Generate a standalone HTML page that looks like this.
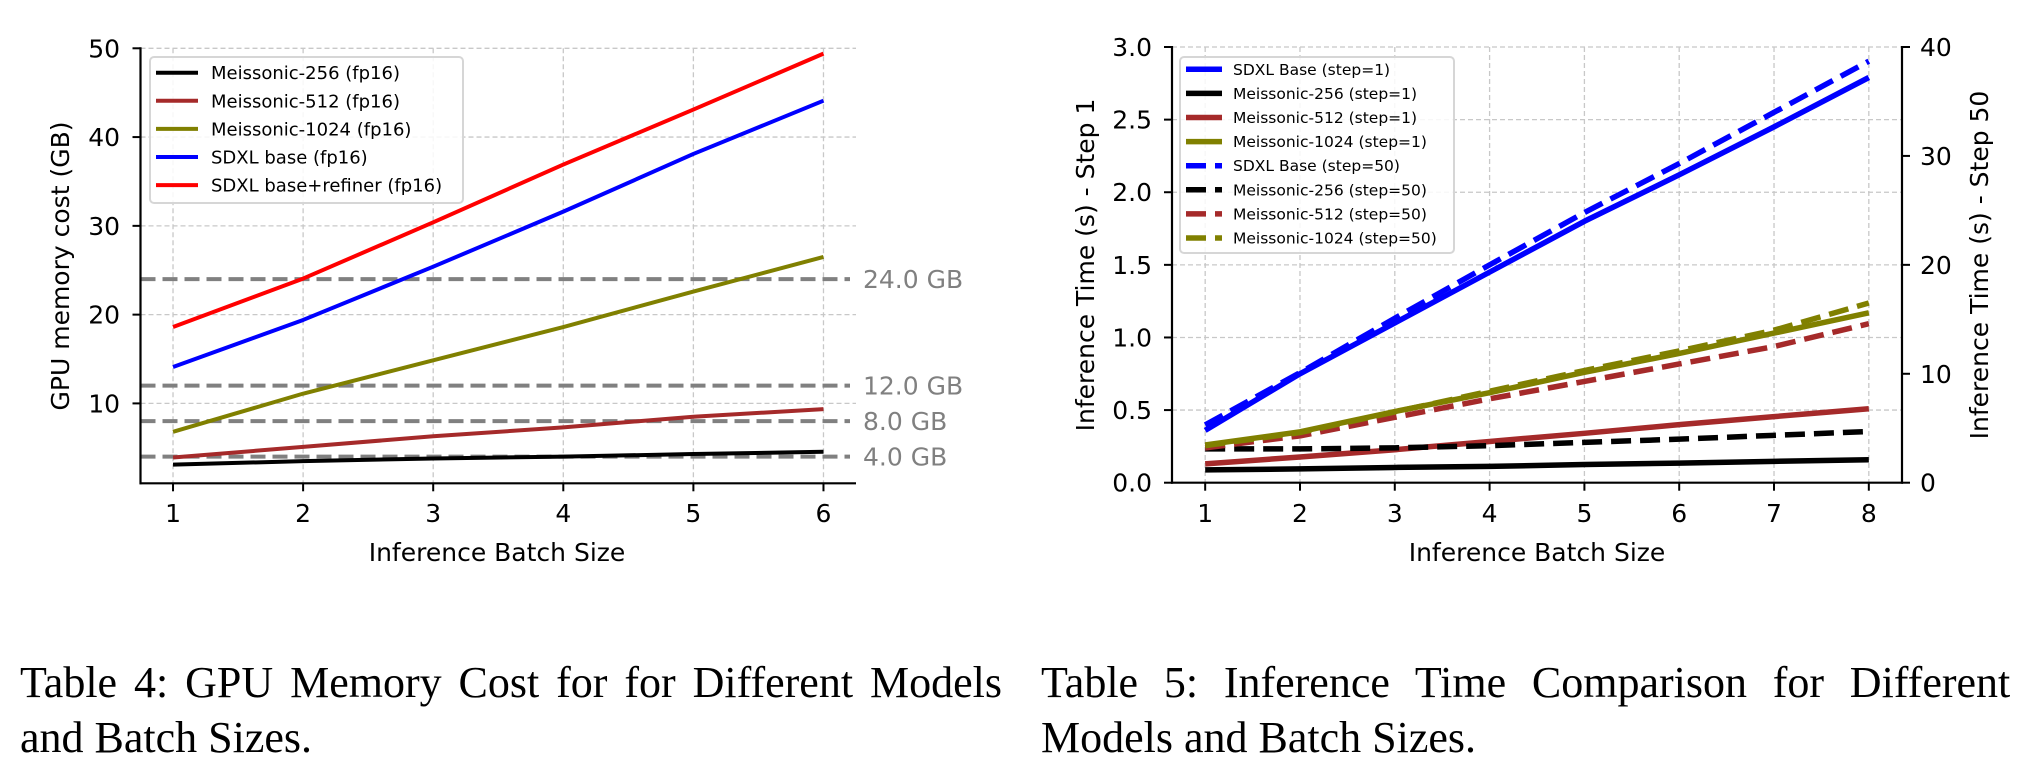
<!DOCTYPE html>
<html><head><meta charset="utf-8"><style>
body{margin:0;background:#fff}
svg{display:block}
text{font-family:"DejaVu Sans","Liberation Sans",sans-serif}
.cap{font-family:"Liberation Serif",serif;font-size:44px;fill:#000}
</style></head><body>
<svg id="fig" width="2041" height="778" viewBox="0 0 2041 778" xmlns="http://www.w3.org/2000/svg">
<g id="left"></g>
<g id="right"></g>
<text class="cap" id="cap4" x="20" y="697">Table 4: GPU Memory Cost for for Different Models</text>
<text class="cap" x="20" y="752">and Batch Sizes.</text>
<text class="cap" id="cap5" x="1041" y="697">Table 5:  Inference Time Comparison for Different</text>
<text class="cap" x="1041" y="752">Models and Batch Sizes.</text>
</svg>
<script>
// ---- Left chart data ----
const memBatch = [1,2,3,4,5,6];
const mem256 = [3.1,3.5,3.8,4.0,4.3,4.55];
const mem512 = [3.9,5.1,6.3,7.3,8.5,9.36];
const mem1024 = [6.8,11.1,14.85,18.6,22.6,26.5];
const memSdxl = [14.1,19.4,25.4,31.6,38.1,44.1];
const memSdxlRef = [18.6,24.06,30.4,36.9,43.1,49.4];
const memThresholds = [24,12,8,4];
const memThresholdLabels = ["24.0 GB","12.0 GB","8.0 GB","4.0 GB"];
const memYTicks = [10,20,30,40,50];
const memXTicks = [1,2,3,4,5,6];
// ---- Right chart data ----
const timeBatch = [1,2,3,4,5,6,7,8];
const t1Sdxl = [0.36,0.75,1.1,1.45,1.8,2.12,2.45,2.79];
const t1M256 = [0.088,0.095,0.105,0.112,0.125,0.135,0.147,0.158];
const t1M512 = [0.13,0.177,0.227,0.284,0.34,0.40,0.455,0.509];
const t1M1024 = [0.26,0.35,0.49,0.62,0.76,0.89,1.03,1.17];
const t50Sdxl = [5.3,10.1,15.1,20,24.8,29.3,34,38.7];
const t50M256 = [3.1,3.1,3.2,3.4,3.7,4.0,4.35,4.7];
const t50M512 = [3.2,4.3,6.0,7.7,9.3,10.9,12.5,14.6];
const t50M1024 = [3.4,4.6,6.5,8.4,10.3,12.1,14.0,16.5];
const timeYTicksL = [0,0.5,1.0,1.5,2.0,2.5,3.0];
const timeYTicksLLabels = ["0.0","0.5","1.0","1.5","2.0","2.5","3.0"];
const timeYTicksR = [0,10,20,30,40];
const timeXTicks = [1,2,3,4,5,6,7,8];

const NS="http://www.w3.org/2000/svg";
function mk(parent,tag,attrs,txt){const e=document.createElementNS(NS,tag);for(const k in attrs)e.setAttribute(k,attrs[k]);if(txt!==undefined)e.textContent=txt;parent.appendChild(e);return e;}

function justify(id,w){const t=document.getElementById(id);const len=t.getComputedTextLength();const n=(t.textContent.match(/ /g)||[]).length;if(n&&len<w)t.setAttribute('word-spacing',((w-len)/n).toFixed(2));}
justify('cap4',982);justify('cap5',984);

// ===== LEFT =====
(function(){
const g=document.getElementById('left');
const X0=140.5,X1=856,Y0=483.3,Y1=48.3, xmin=0.75,xmax=6.25,ymin=1,ymax=50;
const sx=v=>X0+(v-xmin)/(xmax-xmin)*(X1-X0);
const sy=v=>Y0-(v-ymin)/(ymax-ymin)*(Y0-Y1);
memXTicks.forEach(v=>{const l=mk(g,'line',{x1:sx(v),x2:sx(v),y1:Y1,y2:Y0,stroke:'#c8c8c8','stroke-width':1.3,'stroke-dasharray':'5 3'});
});
memYTicks.forEach(v=>{const l=mk(g,'line',{x1:X0,x2:X1,y1:sy(v),y2:sy(v),stroke:'#c8c8c8','stroke-width':1.3,'stroke-dasharray':'5 3'});
});
memThresholds.forEach((v,i)=>{
const l=mk(g,'line',{x1:X0,x2:850,y1:sy(v),y2:sy(v),stroke:'#808080','stroke-width':4,'stroke-dasharray':'15 7'});

const t=mk(g,'text',{x:863,y:sy(v)+9,'font-size':25,fill:'#808080'},memThresholdLabels[i]);
});
const series=[[mem256,'#000000','meissonic-256-line'],[mem512,'#a52a2a','meissonic-512-line'],[mem1024,'#808000','meissonic-1024-line'],[memSdxl,'#0000ff','sdxl-base-line'],[memSdxlRef,'#ff0000','sdxl-refiner-line']];
series.forEach(s=>{const p=mk(g,'polyline',{points:memBatch.map((b,i)=>sx(b)+','+sy(s[0][i])).join(' '),fill:'none',stroke:s[1],'stroke-width':4,'stroke-linejoin':'round'});
});
mk(g,'line',{x1:X0,x2:X0,y1:Y1-1,y2:Y0+1,stroke:'#000','stroke-width':2.2});
mk(g,'line',{x1:X0-1,x2:X1,y1:Y0,y2:Y0,stroke:'#000','stroke-width':2.2});
memXTicks.forEach(v=>{mk(g,'line',{x1:sx(v),x2:sx(v),y1:Y0,y2:Y0+8,stroke:'#000','stroke-width':2});
const t=mk(g,'text',{x:sx(v),y:522,'font-size':25,'text-anchor':'middle'},String(v));});
memYTicks.forEach(v=>{mk(g,'line',{x1:X0-8,x2:X0,y1:sy(v),y2:sy(v),stroke:'#000','stroke-width':2});
const t=mk(g,'text',{x:120,y:sy(v)+9,'font-size':25,'text-anchor':'end'},String(v));});
const xl=mk(g,'text',{x:497,y:561,'font-size':25,'text-anchor':'middle'},'Inference Batch Size');
const yl=mk(g,'text',{x:0,y:0,'font-size':25,'text-anchor':'middle',transform:'translate(69,266) rotate(-90)'},'GPU memory cost (GB)');
const lg=mk(g,'g',{});
mk(lg,'rect',{x:150,y:57,width:313,height:146,rx:4,fill:'#fff','fill-opacity':0.85,stroke:'#d6d6d6','stroke-width':2});
const names=['Meissonic-256 (fp16)','Meissonic-512 (fp16)','Meissonic-1024 (fp16)','SDXL base (fp16)','SDXL base+refiner (fp16)'];
series.forEach((s,i)=>{const y=72.7+i*28.1;
mk(lg,'line',{x1:156,x2:198,y1:y,y2:y,stroke:s[1],'stroke-width':4});
const t=mk(lg,'text',{x:211,y:y+6.5,'font-size':18},names[i]);});
})();

// ===== RIGHT =====
(function(){
const g=document.getElementById('right');
const X0=1172,X1=1902,Y0=482.7,Y1=47, xmin=0.65,xmax=8.35;
const sx=v=>X0+(v-xmin)/(xmax-xmin)*(X1-X0);
const syL=v=>Y0-v/3*(Y0-Y1);
const syR=v=>Y0-v/40*(Y0-Y1);
timeXTicks.forEach(v=>{const l=mk(g,'line',{x1:sx(v),x2:sx(v),y1:Y1,y2:Y0,stroke:'#c8c8c8','stroke-width':1.3,'stroke-dasharray':'5 3'});
});
timeYTicksL.forEach(v=>{const l=mk(g,'line',{x1:X0,x2:X1,y1:syL(v),y2:syL(v),stroke:'#c8c8c8','stroke-width':1.3,'stroke-dasharray':'5 3'});
});
const solid=[[t1Sdxl,'#0000ff','sdxl-step1-line'],[t1M256,'#000000','meissonic-256-step1-line'],[t1M512,'#a52a2a','meissonic-512-step1-line'],[t1M1024,'#808000','meissonic-1024-step1-line']];
const dashed=[[t50Sdxl,'#0000ff','sdxl-step50-line'],[t50M256,'#000000','meissonic-256-step50-line'],[t50M512,'#a52a2a','meissonic-512-step50-line'],[t50M1024,'#808000','meissonic-1024-step50-line']];
solid.forEach(s=>{const p=mk(g,'polyline',{points:timeBatch.map((b,i)=>sx(b)+','+syL(s[0][i])).join(' '),fill:'none',stroke:s[1],'stroke-width':5.5,'stroke-linejoin':'round'});
});
dashed.forEach(s=>{const p=mk(g,'polyline',{points:timeBatch.map((b,i)=>sx(b)+','+syR(s[0][i])).join(' '),fill:'none',stroke:s[1],'stroke-width':5.5,'stroke-dasharray':'20 9'});
});
mk(g,'line',{x1:X0,x2:X0,y1:Y1-1,y2:Y0+1,stroke:'#000','stroke-width':2.2});
mk(g,'line',{x1:X1,x2:X1,y1:Y1-1,y2:Y0+1,stroke:'#000','stroke-width':2.2});
mk(g,'line',{x1:X0-1,x2:X1+1,y1:Y0,y2:Y0,stroke:'#000','stroke-width':2.2});
timeXTicks.forEach(v=>{mk(g,'line',{x1:sx(v),x2:sx(v),y1:Y0,y2:Y0+8,stroke:'#000','stroke-width':2});
const t=mk(g,'text',{x:sx(v),y:522,'font-size':25,'text-anchor':'middle'},String(v));});
timeYTicksL.forEach((v,i)=>{mk(g,'line',{x1:X0-8,x2:X0,y1:syL(v),y2:syL(v),stroke:'#000','stroke-width':2});
const t=mk(g,'text',{x:1152,y:syL(v)+9,'font-size':25,'text-anchor':'end'},timeYTicksLLabels[i]);});
timeYTicksR.forEach(v=>{mk(g,'line',{x1:X1,x2:X1+8,y1:syR(v),y2:syR(v),stroke:'#000','stroke-width':2});
const t=mk(g,'text',{x:1920,y:syR(v)+9,'font-size':25},String(v));});
const xl=mk(g,'text',{x:1537,y:561,'font-size':25,'text-anchor':'middle'},'Inference Batch Size');
const yl=mk(g,'text',{x:0,y:0,'font-size':25,'text-anchor':'middle',transform:'translate(1094,265) rotate(-90)'},'Inference Time (s) - Step 1');
const yr=mk(g,'text',{x:0,y:0,'font-size':25,'text-anchor':'middle',transform:'translate(1988,265) rotate(-90)'},'Inference Time (s) - Step 50');
const lg=mk(g,'g',{});
mk(lg,'rect',{x:1180,y:57,width:274,height:196,rx:4,fill:'#fff','fill-opacity':0.85,stroke:'#d6d6d6','stroke-width':2});
const names=['SDXL Base (step=1)','Meissonic-256 (step=1)','Meissonic-512 (step=1)','Meissonic-1024 (step=1)','SDXL Base (step=50)','Meissonic-256 (step=50)','Meissonic-512 (step=50)','Meissonic-1024 (step=50)'];
solid.concat(dashed).forEach((s,i)=>{const y=69.3+i*24.1;
const l=mk(lg,'line',{x1:1186,x2:1222,y1:y,y2:y,stroke:s[1],'stroke-width':5.5});
if(i>=4)l.setAttribute('stroke-dasharray','20 9');
const t=mk(lg,'text',{x:1233,y:y+5.5,'font-size':15.5},names[i]);});
})();
</script>
</body></html>
